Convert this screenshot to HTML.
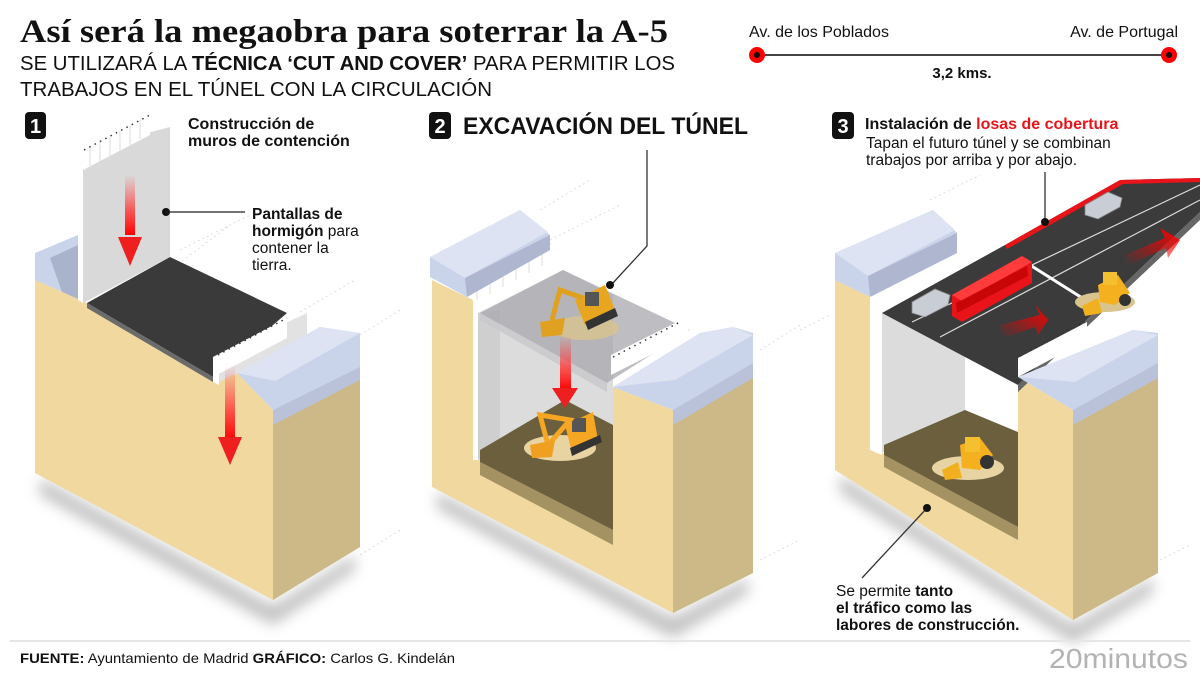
<!DOCTYPE html>
<html><head><meta charset="utf-8"><style>
html,body{margin:0;padding:0;background:#fff;}
svg{display:block;}
text{font-family:"Liberation Sans",sans-serif;fill:#111;}
</style></head><body>
<svg width="1200" height="675" viewBox="0 0 1200 675" xmlns="http://www.w3.org/2000/svg">
<defs>
<linearGradient id="arr" x1="0" y1="0" x2="0" y2="1">
<stop offset="0" stop-color="#ff3b3b" stop-opacity="0"/><stop offset="0.6" stop-color="#f33" stop-opacity="0.8"/><stop offset="1" stop-color="#f00"/></linearGradient>
<linearGradient id="arrh" x1="0" y1="1" x2="1" y2="0">
<stop offset="0" stop-color="#e00" stop-opacity="0"/><stop offset="1" stop-color="#f00"/></linearGradient>
<filter id="blur" x="-20%" y="-50%" width="140%" height="200%"><feGaussianBlur stdDeviation="7"/></filter>
</defs>

<!-- header -->
<text x="20" y="42" font-weight="bold" font-size="33" textLength="648" lengthAdjust="spacingAndGlyphs" style="font-family:'Liberation Serif',serif">Así será la megaobra para soterrar la A-5</text>
<text x="20" y="70" font-size="20" textLength="655" lengthAdjust="spacingAndGlyphs" fill="#222">SE UTILIZARÁ LA <tspan font-weight="bold">TÉCNICA ‘CUT AND COVER’</tspan> PARA PERMITIR LOS</text>
<text x="20" y="96" font-size="20" textLength="472" lengthAdjust="spacingAndGlyphs" fill="#222">TRABAJOS EN EL TÚNEL CON LA CIRCULACIÓN</text>

<!-- route -->
<text x="749" y="37" font-size="16" fill="#222">Av. de los Poblados</text>
<text x="1178" y="37" font-size="16" fill="#222" text-anchor="end">Av. de Portugal</text>
<line x1="757" y1="55" x2="1169" y2="55" stroke="#444" stroke-width="2"/>
<circle cx="757" cy="55" r="8" fill="#f00"/><circle cx="757" cy="55" r="3" fill="#111"/>
<circle cx="1169" cy="55" r="8" fill="#f00"/><circle cx="1169" cy="55" r="3" fill="#111"/>
<text x="962" y="78" font-size="15" font-weight="bold" text-anchor="middle">3,2 kms.</text>

<!-- faint dashed guides -->
<g stroke="#ddd" stroke-width="1" stroke-dasharray="2 3">
<line x1="170" y1="270" x2="230" y2="225"/><line x1="180" y1="250" x2="250" y2="215"/>
<line x1="300" y1="312" x2="355" y2="280"/><line x1="360" y1="335" x2="400" y2="310"/>
<line x1="360" y1="555" x2="400" y2="530"/><line x1="540" y1="210" x2="590" y2="180"/>
<line x1="550" y1="240" x2="620" y2="205"/><line x1="760" y1="350" x2="800" y2="325"/>
<line x1="760" y1="560" x2="800" y2="540"/><line x1="930" y1="200" x2="980" y2="175"/>
<line x1="800" y1="330" x2="830" y2="315"/><line x1="1160" y1="560" x2="1190" y2="545"/>
</g>

<!-- shadows -->
<polygon points="40,478 273,606 355,555 355,570 273,625 40,495" fill="#777" opacity="0.45" filter="url(#blur)"/>
<polygon points="437,492 673,618 748,578 748,593 673,638 437,508" fill="#777" opacity="0.45" filter="url(#blur)"/>
<polygon points="840,475 1073,625 1153,578 1153,593 1073,643 840,492" fill="#777" opacity="0.45" filter="url(#blur)"/>

<!-- ===== BLOCK 1 ===== -->
<rect x="25" y="112" width="21" height="27" rx="4" fill="#111"/>
<text x="35.5" y="133" font-size="20" font-weight="bold" text-anchor="middle" style="fill:#fff">1</text>
<text x="188" y="129" font-size="16" font-weight="bold">Construcción de</text>
<text x="188" y="146" font-size="16" font-weight="bold">muros de contención</text>
<polygon points="35,253 78,235 80,300 35,280" fill="#c9d3ea"/>
<polygon points="50,258 78,245 80,300 62,292" fill="#a9b3cc"/>
<polygon points="273,410 360,367 360,547 273,600" fill="#cdb887"/>
<polygon points="35,280 80,300 87,303 213,377 237,373 273,410 273,600 35,473" fill="#f0d89e"/>
<polygon points="87,303 170,257 287,313 213,377" fill="#3a3a3a"/>
<polygon points="87,303 213,377 213,382 87,308" fill="#6b6b6b"/>
<polygon points="78,150 83,148 83,303 78,300" fill="#fff"/>
<polygon points="83,150 170,127 170,257 83,303" fill="#d9d9d9"/>
<polygon points="83,150 150,115 150,135 83,170" fill="#fff"/>
<g stroke="#ccc" stroke-width="0.7"><line x1="90" y1="147" x2="90" y2="166"/><line x1="100" y1="142" x2="100" y2="161"/><line x1="110" y1="137" x2="110" y2="156"/><line x1="120" y1="131" x2="120" y2="150"/><line x1="130" y1="126" x2="130" y2="145"/><line x1="140" y1="120" x2="140" y2="139"/></g>
<g stroke="#333" stroke-width="1.5" stroke-dasharray="1.5 4.5"><line x1="84" y1="150" x2="150" y2="115"/></g>
<polygon points="213,357 307,313 307,335 237,373 217,383" fill="#e2e2e2"/>
<polygon points="213,357 287,318 287,338 213,377" fill="#fff"/>
<g stroke="#333" stroke-width="1.5" stroke-dasharray="1.5 4.5"><line x1="218" y1="355" x2="287" y2="318"/></g>
<polygon points="213,357 219,357 219,385 213,382" fill="#fff"/>
<polygon points="237,373 320,327 360,333 360,367 273,410" fill="#c9d3ea"/>
<polygon points="237,373 320,327 360,333 275,381" fill="#dde3f2"/>
<polygon points="273,410 360,367 360,380 273,425" fill="#b9c2d9"/>
<rect x="125" y="175" width="10" height="60" fill="url(#arr)"/>
<polygon points="118,237 142,237 130,266" fill="#f01f1f"/>
<rect x="225" y="365" width="10" height="75" fill="url(#arr)"/>
<polygon points="218,437 242,437 230,465" fill="#f01f1f"/>
<circle cx="166" cy="212" r="4" fill="#111"/>
<line x1="166" y1="212" x2="245" y2="212" stroke="#222" stroke-width="1.3"/>
<text x="252" y="219" font-size="15.5" font-weight="bold">Pantallas de</text>
<text x="252" y="236" font-size="15.5"><tspan font-weight="bold">hormigón</tspan> para</text>
<text x="252" y="253" font-size="15.5">contener la</text>
<text x="252" y="270" font-size="15.5">tierra.</text>

<!-- ===== BLOCK 2 ===== -->
<rect x="429" y="112" width="22" height="27" rx="4" fill="#111"/>
<text x="440" y="133" font-size="20" font-weight="bold" text-anchor="middle" style="fill:#fff">2</text>
<text x="463" y="134" font-size="24" font-weight="bold" textLength="285" lengthAdjust="spacingAndGlyphs">EXCAVACIÓN DEL TÚNEL</text>
<polygon points="673,410 753,363 753,573 673,613" fill="#cdb887"/>
<polygon points="432,280 473,300 478,313 478,460 613,530 613,387 673,410 673,613 432,487" fill="#f0d89e"/>
<polygon points="478,313 563,270 613,295 613,530 478,460" fill="#dcdcdc"/>
<polygon points="478,313 478,460 500,450 500,310" fill="#cfcfcf"/>
<polygon points="480,450 565,400 613,425 613,530 480,462" fill="#6b5f3e"/>
<polygon points="480,462 613,530 613,545 480,475" fill="#857548" opacity="0.7"/>
<ellipse cx="560" cy="448" rx="36" ry="13" fill="#e8d3a2"/>
<polygon points="565,425 593,412 598,440 572,452" fill="#f5a623"/>
<rect x="572" y="418" width="14" height="14" fill="#555"/>
<polygon points="548,445 540,415 570,420" fill="none" stroke="#f5a623" stroke-width="5"/>
<polygon points="530,445 555,440 552,457 532,458" fill="#f0a020"/>
<polygon points="570,448 600,435 602,442 572,456" fill="#333"/>
<polygon points="480,313 563,270 690,330 607,383" fill="#a8a8ae" opacity="0.75"/>
<polygon points="480,313 607,383 607,392 480,320" fill="#c8c8cc" opacity="0.8"/>
<ellipse cx="585" cy="328" rx="34" ry="12" fill="#d9c48e" opacity="0.8"/>
<polygon points="575,300 605,285 615,310 585,325" fill="#e8a520"/>
<rect x="585" y="292" width="14" height="14" fill="#555"/>
<polyline points="552,320 560,290 583,298" fill="none" stroke="#e0a020" stroke-width="5"/>
<polygon points="540,322 565,318 562,335 542,337" fill="#e0a020"/>
<polygon points="585,322 615,308 618,316 588,330" fill="#333"/>
<polygon points="473,300 478,300 478,460 473,460" fill="#fff"/>
<polygon points="473,285 550,245 550,265 478,305" fill="#fff"/>
<g stroke="#333" stroke-width="1.5" stroke-dasharray="1.5 4.5"><line x1="475" y1="282" x2="550" y2="243"/></g>
<g stroke="#ccc" stroke-width="0.7"><line x1="477" y1="283" x2="477" y2="300"/><line x1="490" y1="276" x2="490" y2="294"/><line x1="503" y1="269" x2="503" y2="287"/><line x1="516" y1="262" x2="516" y2="280"/><line x1="529" y1="256" x2="529" y2="273"/><line x1="542" y1="249" x2="542" y2="266"/></g>
<polygon points="611,355 685,318 690,335 611,375" fill="#fff"/>
<g stroke="#333" stroke-width="1.5" stroke-dasharray="1.5 4.5"><line x1="613" y1="357" x2="680" y2="322"/></g>
<polygon points="430,257 520,210 550,235 550,250 467,297 430,277" fill="#c9d3ea"/>
<polygon points="430,257 520,210 548,232 465,278" fill="#dde3f2"/>
<polygon points="465,278 550,235 550,250 467,297" fill="#aeb7cf"/>
<polygon points="613,387 700,333 733,327 753,333 753,363 673,410" fill="#c9d3ea"/>
<polygon points="613,387 700,333 733,327 753,335 675,380" fill="#dde3f2"/>
<polygon points="673,410 753,363 753,378 673,425" fill="#b9c2d9"/>
<rect x="560" y="335" width="11" height="55" fill="url(#arr)"/>
<polygon points="552,388 578,388 565,408" fill="#f01f1f"/>
<polyline points="647,150 647,246 612,284" fill="none" stroke="#333" stroke-width="1.3"/>
<circle cx="610" cy="285" r="4" fill="#111"/>

<!-- ===== BLOCK 3 ===== -->
<rect x="832" y="112" width="22" height="27" rx="4" fill="#111"/>
<text x="843" y="133" font-size="20" font-weight="bold" text-anchor="middle" style="fill:#fff">3</text>
<text x="865" y="129" font-size="16" font-weight="bold">Instalación de <tspan style="fill:#e8141a">losas de cobertura</tspan></text>
<text x="866" y="148" font-size="15.5">Tapan el futuro túnel y se combinan</text>
<text x="866" y="165" font-size="15.5">trabajos por arriba y por abajo.</text>
<polygon points="1073,410 1158,363 1158,573 1073,620" fill="#cdb887"/>
<polygon points="835,280 870,297 882,313 882,453 1018,527 1018,377 1073,410 1073,620 835,470" fill="#f0d89e"/>
<polygon points="882,313 960,275 1018,300 1018,527 882,453" fill="#fff"/>
<polygon points="882,313 965,272 965,425 882,453" fill="#dcdcdc"/>
<polygon points="884,445 965,410 1018,432 1018,527 884,455" fill="#6b5f3e"/>
<polygon points="884,455 1018,527 1018,540 884,467" fill="#857548" opacity="0.7"/>
<ellipse cx="968" cy="468" rx="36" ry="12" fill="#e8d3a2"/>
<polygon points="960,445 980,438 993,455 980,470 962,468" fill="#f5b020"/>
<rect x="965" y="437" width="15" height="15" fill="#f5c030"/>
<circle cx="987" cy="462" r="7" fill="#333"/>
<polygon points="942,470 958,462 962,478 945,480" fill="#f0b020"/>
<!-- road -->
<polygon points="882,313 1005,245 1120,180 1200,178 1200,212 1018,385" fill="#3b3b3b"/>
<polygon points="1005,245 1120,180 1200,178 1200,182 1123,184 1007,249" fill="#e8141a"/>
<polygon points="1018,385 1200,212 1200,220 1018,392" fill="#666"/>
<g stroke="#ddd" stroke-width="1.2" fill="none">
<line x1="912" y1="322" x2="1200" y2="185"/>
<line x1="940" y1="337" x2="1200" y2="200"/>
</g>
<line x1="1030" y1="265" x2="1125" y2="325" stroke="#fff" stroke-width="3"/>
<polygon points="912,302 935,289 950,295 948,305 925,317 912,313" fill="#c8cdd6" stroke="#888" stroke-width="0.8"/>
<polygon points="1085,205 1108,192 1122,198 1120,207 1098,219 1085,215" fill="#c8cdd6" stroke="#888" stroke-width="0.8"/>
<polygon points="952,295 1022,256 1032,262 1032,283 962,322 952,316" fill="#e8141a"/>
<polygon points="952,295 1022,256 1032,262 962,301" fill="#ff3b3b"/>
<polygon points="956,303 1027,266 1028,276 957,313" fill="#b00" opacity="0.7"/>
<ellipse cx="1105" cy="302" rx="30" ry="10" fill="#d9c48e"/>
<polygon points="1098,285 1118,275 1130,293 1115,305 1100,302" fill="#f5b020"/>
<rect x="1103" y="272" width="14" height="13" fill="#f5c030"/>
<circle cx="1125" cy="300" r="6" fill="#333"/>
<polygon points="1082,306 1098,298 1102,313 1085,316" fill="#f0b020"/>
<polygon points="1000,325 1040,315 1035,305 1048,320 1038,335 1035,327 1003,338" fill="url(#arrh)"/>
<polygon points="1125,255 1165,238 1160,228 1180,240 1168,258 1166,248 1128,265" fill="url(#arrh)"/>
<polygon points="870,297 876,297 882,313 882,455 870,450" fill="#fff"/>
<polygon points="876,288 957,247 957,265 882,305" fill="#fff"/>
<g stroke="#333" stroke-width="1.5" stroke-dasharray="1.5 4.5"><line x1="878" y1="283" x2="950" y2="245"/></g>
<polygon points="1018,358 1087,322 1087,340 1018,377" fill="#fff"/>
<g stroke="#333" stroke-width="1.5" stroke-dasharray="1.5 4.5"><line x1="1020" y1="356" x2="1085" y2="322"/></g>
<polygon points="835,253 933,210 957,233 957,253 870,297 835,280" fill="#c9d3ea"/>
<polygon points="835,253 933,210 955,230 868,276" fill="#dde3f2"/>
<polygon points="868,276 957,233 957,253 870,297" fill="#aeb7cf"/>
<polygon points="1018,377 1133,330 1158,333 1158,363 1073,410" fill="#c9d3ea"/>
<polygon points="1018,377 1133,330 1158,335 1075,382" fill="#dde3f2"/>
<polygon points="1073,410 1158,363 1158,378 1073,425" fill="#b9c2d9"/>
<line x1="1045" y1="172" x2="1045" y2="222" stroke="#333" stroke-width="1.3"/>
<circle cx="1045" cy="222" r="4" fill="#111"/>
<line x1="927" y1="508" x2="862" y2="578" stroke="#333" stroke-width="1.3"/>
<circle cx="927" cy="508" r="4" fill="#111"/>
<text x="836" y="596" font-size="15.5">Se permite <tspan font-weight="bold">tanto</tspan></text>
<text x="836" y="613" font-size="15.5" font-weight="bold">el tráfico como las</text>
<text x="836" y="630" font-size="15.5" font-weight="bold">labores de construcción.</text>

<!-- footer -->
<line x1="10" y1="641" x2="1190" y2="641" stroke="#e6e6e6" stroke-width="2"/>
<text x="20" y="663" font-size="14" textLength="435" lengthAdjust="spacingAndGlyphs" fill="#222"><tspan font-weight="bold">FUENTE:</tspan> Ayuntamiento de Madrid    <tspan font-weight="bold">GRÁFICO:</tspan> Carlos G. Kindelán</text>
<text x="1049" y="668" font-size="28" textLength="139" lengthAdjust="spacingAndGlyphs" style="fill:#b3b3b3">20minutos</text>
</svg>
</body></html>
